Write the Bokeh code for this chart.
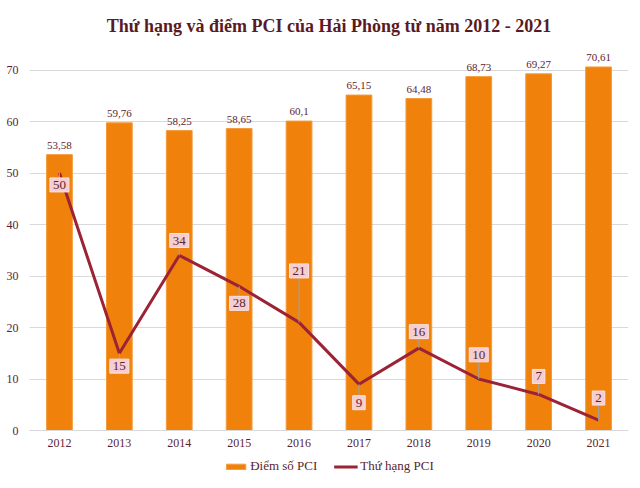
from bokeh.plotting import figure
from bokeh.models import ColumnDataSource, Legend, LegendItem, Range1d
from bokeh.layouts import column
from bokeh.embed import file_html
from bokeh.resources import INLINE
from bokeh.core.properties import value

years = ["2012", "2013", "2014", "2015", "2016", "2017", "2018", "2019", "2020", "2021"]
pci_score = [53.58, 59.76, 58.25, 58.65, 60.1, 65.15, 64.48, 68.73, 69.27, 70.61]
pci_rank = [50, 15, 34, 28, 21, 9, 16, 10, 7, 2]
y_ticks = [0, 10, 20, 30, 40, 50, 60, 70]
series_names = ["Điểm số PCI", "Thứ hạng PCI"]

# label placement offsets (style), in data units relative to the point
rank_label_dy = [-2.3, -2.5, 2.9, -3.3, 10.0, -3.6, 3.2, 4.7, 3.5, 4.3]

FONT = "Liberation Serif"
TXT = "#5b2530"
BAR = "#F0820C"
BAR_EDGE = "#F49A3C"
LINE = "#9B2335"

p = figure(x_range=years, width=640, height=456, output_backend="svg",
           toolbar_location=None, min_border_left=29, min_border_right=12,
           min_border_top=49, min_border_bottom=26)
p.y_range = Range1d(0, 74)
p.outline_line_color = None

p.title.text = "Thứ hạng và điểm PCI của Hải Phòng từ năm 2012 - 2021"
p.title.align = "center"
p.title.vertical_align = "top"
p.title.text_font = FONT
p.title.text_font_size = "18px"
p.title.text_font_style = "bold"
p.title.text_color = "#5a1a22"
p.title.offset = 0
p.title.standoff = 24

src = ColumnDataSource(dict(
    x=years, score=pci_score, rank=pci_rank,
    score_lbl=[f"{v:g}".replace(".", ",") for v in pci_score],
    rank_lbl=[str(r) for r in pci_rank],
    rank_ly=[r + d for r, d in zip(pci_rank, rank_label_dy)],
))

p.vbar(x="x", top="score", width=0.43, source=src, fill_color=BAR, line_color=BAR_EDGE, line_width=1)
p.text(x="x", y="score", text="score_lbl", source=src, text_align="center", text_baseline="bottom",
       y_offset=-6, text_font=value(FONT), text_font_size="11px", text_color=TXT)

p.line(x="x", y="rank", source=src, line_color=LINE, line_width=3)

p.segment(x0="x", y0="rank", x1="x", y1="rank_ly", source=src, line_color="#a0a0a0", line_width=1)
p.text(x="x", y="rank_ly", text="rank_lbl", source=src, text_align="center", text_baseline="middle",
       text_font=value(FONT), text_font_size="13px", text_color=TXT,
       background_fill_color="#f6cdd0", border_line_color="#f9e3e4", padding=3)

p.xaxis.axis_line_color = "#d9d9d9"
p.xaxis.major_tick_line_color = None
p.xaxis.minor_tick_line_color = None
p.xaxis.major_tick_out = 0
p.xaxis.major_tick_in = 0
p.xaxis.major_label_text_font = FONT
p.xaxis.major_label_text_font_size = "12px"
p.xaxis.major_label_text_color = TXT
p.xaxis.major_label_standoff = 8
p.xgrid.grid_line_color = None

p.yaxis.ticker = y_ticks
p.yaxis.axis_line_color = None
p.yaxis.major_tick_line_color = None
p.yaxis.minor_tick_line_color = None
p.yaxis.major_tick_out = 0
p.yaxis.major_tick_in = 0
p.yaxis.major_label_text_font = FONT
p.yaxis.major_label_text_font_size = "12px"
p.yaxis.major_label_text_color = TXT
p.yaxis.major_label_standoff = 11
p.ygrid.grid_line_color = "#d9d9d9"
p.ygrid.ticker = y_ticks

# legend strip below the chart (dummy off-range renderers only provide legend swatches)
lg = figure(width=640, height=20, output_backend="svg", toolbar_location=None,
            min_border=0, x_range=Range1d(0, 1), y_range=Range1d(0, 1))
lg.axis.visible = False
lg.grid.visible = False
lg.outline_line_color = None
r_bar = lg.vbar(x=[-5], top=[-5], width=0.1, fill_color=BAR, line_color=BAR_EDGE)
r_line = lg.line(x=[-6, -5], y=[-5, -5], line_color=LINE, line_width=3)
legend = Legend(items=[LegendItem(label=series_names[0], renderers=[r_bar]),
                       LegendItem(label=series_names[1], renderers=[r_line])],
                orientation="horizontal", location="center",
                label_text_font=FONT, label_text_font_size="13px", label_text_color=TXT,
                glyph_width=24, glyph_height=7, spacing=16, border_line_color=None,
                background_fill_alpha=0, padding=0, margin=0, label_standoff=3)
lg.add_layout(legend, "center")

open("out.html", "w").write(file_html(column(p, lg, spacing=0), INLINE))
